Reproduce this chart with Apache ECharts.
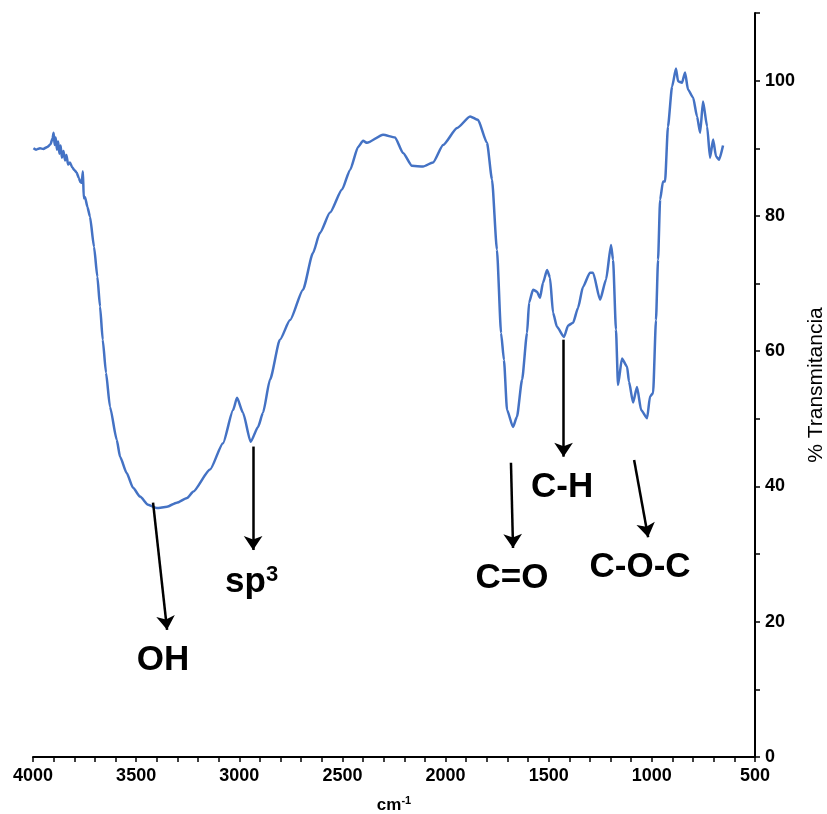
<!DOCTYPE html>
<html>
<head>
<meta charset="utf-8">
<script src="https://cdn.jsdelivr.net/npm/echarts@6/dist/echarts.min.js"></script>
<style>
  html, body { margin: 0; padding: 0; background: #fff; }
  #chart { width: 827px; height: 814px; }
</style>
</head>
<body>
<div id="chart"></div>
<script>
// espectro FTIR (número de onda, % transmitancia)
const wavenumber = [
  3998, 3985, 3966, 3950, 3930, 3915, 3905, 3900, 3895, 3890, 3884, 3878, 3872, 3866, 3860,
  3852, 3845, 3838, 3830, 3821, 3810, 3800, 3788, 3778, 3770, 3764, 3758, 3754, 3748, 3736,
  3724, 3704, 3688, 3675, 3662, 3646, 3627, 3594, 3578, 3546, 3515, 3481, 3442, 3400, 3350,
  3303, 3253, 3224, 3142, 3079,
  3030, 3011, 2982, 2945, 2909, 2885, 2851, 2803, 2754, 2691, 2643, 2609, 2560, 2502, 2463,
  2424, 2400, 2381, 2303, 2245, 2206, 2163, 2109, 2061, 2012, 1944, 1881, 1843, 1799, 1775,
  1751, 1731, 1717, 1702, 1673, 1654, 1629, 1605, 1595, 1576, 1557, 1542, 1528, 1508, 1494,
  1479, 1460, 1426, 1406, 1382, 1358, 1334, 1300, 1285, 1251, 1222, 1198, 1188, 1174, 1164,
  1145, 1120, 1111, 1091, 1072, 1052, 1023, 1009, 994, 980, 970, 960, 946, 936, 922,
  902, 883, 873, 854, 839, 825, 800, 781, 766, 752, 732, 718, 703, 689, 674, 655
];
const transmittance = [
  90.0, 89.8, 90.0, 89.9, 90.2, 90.6, 91.5, 92.3, 90.5, 91.6, 89.8, 91.0, 89.2, 90.4, 88.6,
  89.6, 88.2, 89.0, 87.6, 87.9, 87.2, 86.8, 86.4, 85.6, 85.0, 84.9, 86.6, 82.6, 82.8, 81.3,
  79.9, 75.4, 71.0, 66.6, 61.7, 56.8, 51.8, 46.9, 44.4, 42.0, 39.8, 38.5, 37.3, 36.8, 37.0,
  37.6, 38.3, 39.2, 42.5, 46.4,
  51.3, 53.1, 50.9, 46.6, 48.8, 50.9, 55.8, 61.7, 64.6, 69.1, 74.5, 77.5, 80.5, 83.9, 86.8,
  90.2, 91.1, 90.8, 92.0, 91.6, 89.3, 87.4, 87.3, 87.9, 90.5, 93.0, 94.7, 94.2, 90.8, 85.4,
  75.0, 62.7, 58.7, 51.3, 48.8, 50.3, 55.8, 62.7, 67.2, 69.1, 68.8, 67.9, 70.1, 72.0, 70.9,
  65.7, 63.6, 62.1, 63.8, 64.2, 66.4, 69.5, 71.6, 71.6, 67.6, 70.6, 75.7, 73.5, 63.2, 55.0,
  58.9, 57.7, 55.5, 52.4, 54.7, 51.3, 50.1, 53.3, 53.8, 64.6, 73.5, 82.4, 85.1, 85.1, 93.2,
  99.1, 101.8, 99.9, 99.7, 101.2, 98.7, 97.5, 94.7, 92.3, 96.9, 93.2, 88.6, 91.3, 88.8, 88.3, 90.4
];

// anotaciones: texto, inicio y fin de la flecha, posición del texto
const noteText  = ['OH', 'sp{sup|3}', 'C=O', 'C-H', 'C-O-C'];
const arrowFrom = [[3418, 37.6], [2933, 45.9], [1683, 43.5], [1428, 61.7], [1086, 43.9]];
const arrowTo   = [[3350, 18.8], [2933, 30.6], [1673, 30.9], [1428, 44.4], [1018, 32.5]];
const notePos   = [[3370, 14.3], [2940, 25.8], [1678, 26.4], [1435, 39.9], [1057, 28.1]];

const xTicks = { min: 500, max: 4000, step: 500 };
const yTicks = { min: 0, max: 110, step: 20 };

const FONT = '"Liberation Sans", Arial, sans-serif';

const chart = echarts.init(document.getElementById('chart'));

const option = {
  animation: false,
  backgroundColor: '#fff',
  grid: { left: 33, right: 72, top: 13, bottom: 57, outerBoundsMode: 'none', containLabel: false },
  xAxis: {
    type: 'value',
    min: xTicks.min, max: xTicks.max, interval: xTicks.step,
    inverse: true,
    name: 'cm{sup|-1}',
    nameLocation: 'middle',
    nameGap: 38,
    nameTextStyle: {
      fontFamily: FONT, fontSize: 17, fontWeight: 'bold', color: '#000',
      rich: { sup: { fontFamily: FONT, fontSize: 11, fontWeight: 'bold', color: '#000', padding: [0, 0, 10, 0] } }
    },
    axisLine: { lineStyle: { color: '#000', width: 2 } },
    axisTick: { length: 5, lineStyle: { color: '#000', width: 1.5 } },
    minorTick: { show: true, splitNumber: 5, length: 5, lineStyle: { color: '#000', width: 1.5 } },
    splitLine: { show: false },
    axisLabel: {
      fontFamily: FONT, fontSize: 18, fontWeight: 'bold', color: '#000', margin: 10,
      formatter: v => String(v)
    }
  },
  yAxis: {
    type: 'value',
    position: 'right',
    min: yTicks.min, max: yTicks.max, interval: yTicks.step,
    name: '% Transmitancia',
    nameLocation: 'middle',
    nameRotate: 90,
    nameGap: 51,
    nameTextStyle: { fontFamily: FONT, fontSize: 21, color: '#000' },
    axisLine: { show: true, lineStyle: { color: '#000', width: 2 } },
    axisTick: { show: true, length: 5, lineStyle: { color: '#000', width: 1.5 } },
    minorTick: { show: true, splitNumber: 2, length: 5, lineStyle: { color: '#000', width: 1.5 } },
    splitLine: { show: false },
    axisLabel: {
      fontFamily: FONT, fontSize: 18, fontWeight: 'bold', color: '#000', margin: 10, showMaxLabel: false,
      formatter: v => String(v)
    }
  },
  series: [
    {
      type: 'line',
      name: 'FTIR',
      data: wavenumber.map((w, i) => [w, transmittance[i]]),
      showSymbol: false,
      smooth: 0.2,
      smoothMonotone: 'x',
      lineStyle: { color: '#4472C4', width: 2.5 },
      markLine: {
        silent: true,
        symbol: ['none', 'arrow'],
        symbolSize: 14,
        label: { show: false },
        lineStyle: { color: '#000', width: 2.5, type: 'solid' },
        data: arrowFrom.map((a, i) => [{ coord: a }, { coord: arrowTo[i] }])
      }
    },
    {
      type: 'scatter',
      name: 'notas',
      symbolSize: 0,
      silent: true,
      itemStyle: { opacity: 1 },
      data: notePos.map((p, i) => ({ value: p, text: noteText[i] })),
      label: {
        show: true,
        position: 'inside',
        formatter: p => p.data.text,
        fontFamily: FONT, fontSize: 35, fontWeight: 'bold', color: '#000',
        textBorderWidth: 0,
        rich: { sup: { fontFamily: FONT, fontSize: 22, fontWeight: 'bold', color: '#000', padding: [0, 0, 16, 0] } }
      }
    }
  ]
};

chart.setOption(option);
</script>
</body>
</html>
